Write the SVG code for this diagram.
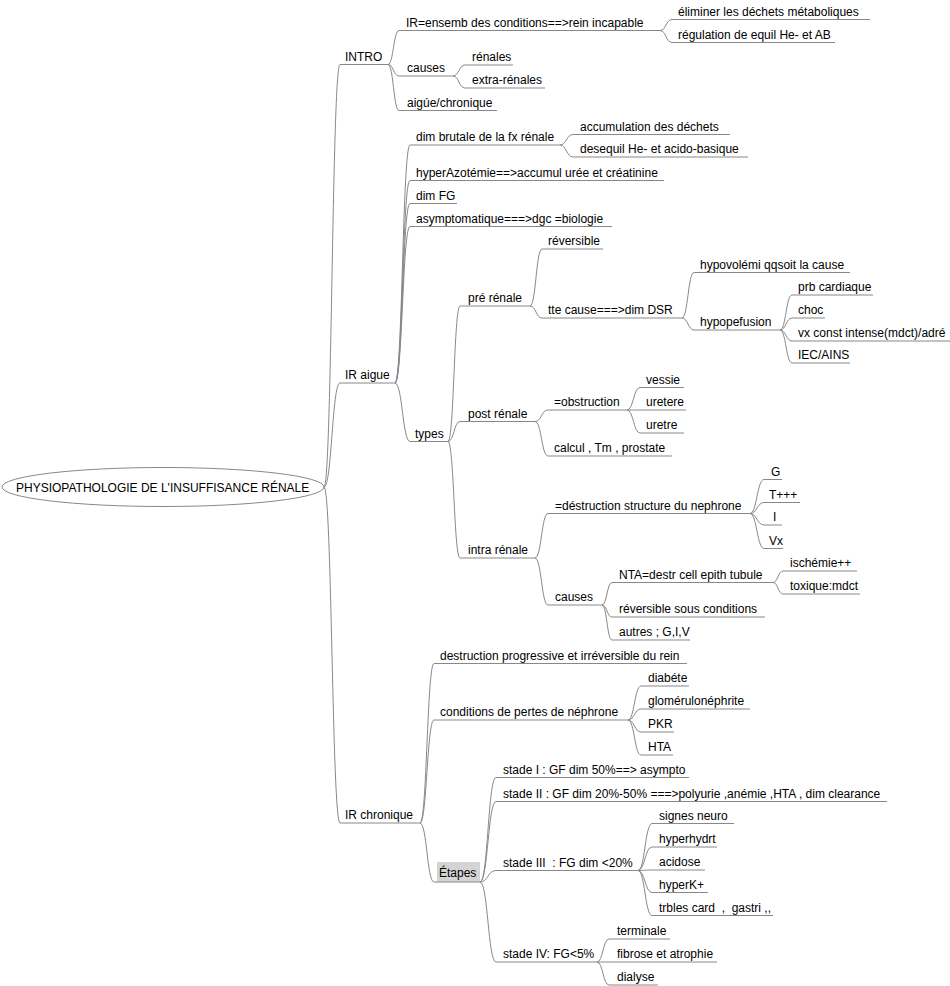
<svg xmlns="http://www.w3.org/2000/svg" width="950" height="986" viewBox="0 0 950 986">
<style>
.t{font-family:"Liberation Sans",Arial,sans-serif;font-size:12px;fill:#000;white-space:pre}
.u{stroke:#888;stroke-width:1;fill:none}
.c path{stroke:#888;stroke-width:1;fill:none}
</style>
<rect x="0" y="0" width="950" height="986" fill="#fff"/>
<g id="connectors" class="c">
<path d="M324 487 C332 487 332 64.5 340 64.5"/>
<path d="M324 487 C332 487 332 383 340 383"/>
<path d="M324 487 C332 487 332 823 340 823"/>
<path d="M388 64.5 C393.5 64.5 393.5 30.5 399 30.5"/>
<path d="M388 64.5 C393.5 64.5 393.5 76 399 76"/>
<path d="M388 64.5 C393.5 64.5 393.5 110.5 399 110.5"/>
<path d="M660 30.5 C666 30.5 666 19.5 672 19.5"/>
<path d="M660 30.5 C666 30.5 666 42.5 672 42.5"/>
<path d="M453 76 C459 76 459 65 465 65"/>
<path d="M453 76 C459 76 459 88 465 88"/>
<path d="M395 383 C402.5 383 402.5 145 410 145"/>
<path d="M395 383 C402.5 383 402.5 180.5 410 180.5"/>
<path d="M395 383 C402.5 383 402.5 203.5 410 203.5"/>
<path d="M395 383 C402.5 383 402.5 226.5 410 226.5"/>
<path d="M395 383 C402.5 383 402.5 441.5 410 441.5"/>
<path d="M560 145 C566.5 145 566.5 134.5 573 134.5"/>
<path d="M560 145 C566.5 145 566.5 157 573 157"/>
<path d="M448 441.5 C454 441.5 454 306 460 306"/>
<path d="M448 441.5 C454 441.5 454 421.5 460 421.5"/>
<path d="M448 441.5 C454 441.5 454 558 460 558"/>
<path d="M530 306 C536 306 536 249 542 249"/>
<path d="M530 306 C536 306 536 318 542 318"/>
<path d="M682 318 C688 318 688 272.5 694 272.5"/>
<path d="M682 318 C688 318 688 330 694 330"/>
<path d="M780 330 C786 330 786 295 792 295"/>
<path d="M780 330 C786 330 786 318 792 318"/>
<path d="M780 330 C786 330 786 341 792 341"/>
<path d="M780 330 C786 330 786 363 792 363"/>
<path d="M535 421.5 C541.5 421.5 541.5 410 548 410"/>
<path d="M535 421.5 C541.5 421.5 541.5 456 548 456"/>
<path d="M627 410 C633.5 410 633.5 387.5 640 387.5"/>
<path d="M627 410 C633.5 410 633.5 410 640 410"/>
<path d="M627 410 C633.5 410 633.5 433 640 433"/>
<path d="M535 558 C541.5 558 541.5 513.5 548 513.5"/>
<path d="M535 558 C541.5 558 541.5 605 548 605"/>
<path d="M750 513.5 C757 513.5 757 479.5 764 479.5"/>
<path d="M750 513.5 C757 513.5 757 502.5 764 502.5"/>
<path d="M750 513.5 C757 513.5 757 525 764 525"/>
<path d="M750 513.5 C757 513.5 757 548.5 764 548.5"/>
<path d="M602 605 C607 605 607 582.5 612 582.5"/>
<path d="M602 605 C607 605 607 617 612 617"/>
<path d="M602 605 C607 605 607 640 612 640"/>
<path d="M773 582.5 C778 582.5 778 571 783 571"/>
<path d="M773 582.5 C778 582.5 778 594 783 594"/>
<path d="M420 823 C427 823 427 663.5 434 663.5"/>
<path d="M420 823 C427 823 427 720 434 720"/>
<path d="M420 823 C427 823 427 882 434 882"/>
<path d="M628 720 C634.5 720 634.5 686 641 686"/>
<path d="M628 720 C634.5 720 634.5 709 641 709"/>
<path d="M628 720 C634.5 720 634.5 732 641 732"/>
<path d="M628 720 C634.5 720 634.5 755 641 755"/>
<path d="M480 882 C488 882 488 777.5 496 777.5"/>
<path d="M480 882 C488 882 488 801.5 496 801.5"/>
<path d="M480 882 C488 882 488 870.5 496 870.5"/>
<path d="M480 882 C488 882 488 962 496 962"/>
<path d="M638 870.5 C645 870.5 645 823.5 652 823.5"/>
<path d="M638 870.5 C645 870.5 645 847 652 847"/>
<path d="M638 870.5 C645 870.5 645 870 652 870"/>
<path d="M638 870.5 C645 870.5 645 892.5 652 892.5"/>
<path d="M638 870.5 C645 870.5 645 915.5 652 915.5"/>
<path d="M597 962 C603 962 603 939 609 939"/>
<path d="M597 962 C603 962 603 962 609 962"/>
<path d="M597 962 C603 962 603 985 609 985"/>
</g>
<g id="root"><ellipse cx="163" cy="487" rx="161" ry="19.5" fill="#fff" stroke="#888"/><text class="t" x="16" y="491.5">PHYSIOPATHOLOGIE DE L'INSUFFISANCE RÉNALE</text></g>
<g id="n-intro"><line class="u" x1="340" y1="64.5" x2="388" y2="64.5"/><text class="t" x="345" y="60.5">INTRO</text></g>
<g id="n-ir-def"><line class="u" x1="399" y1="30.5" x2="660" y2="30.5"/><text class="t" x="406" y="26.5">IR=ensemb des conditions==&gt;rein incapable</text></g>
<g id="n-eliminer"><line class="u" x1="672" y1="19.5" x2="870" y2="19.5"/><text class="t" x="678" y="15.5">éliminer les déchets métaboliques</text></g>
<g id="n-regulation"><line class="u" x1="672" y1="42.5" x2="835" y2="42.5"/><text class="t" x="678" y="38.5">régulation de equil He- et AB</text></g>
<g id="n-causes"><line class="u" x1="399" y1="76" x2="453" y2="76"/><text class="t" x="407" y="72">causes</text></g>
<g id="n-renales"><line class="u" x1="465" y1="65" x2="513" y2="65"/><text class="t" x="472" y="61">rénales</text></g>
<g id="n-extra"><line class="u" x1="465" y1="88" x2="545" y2="88"/><text class="t" x="472" y="84">extra-rénales</text></g>
<g id="n-aigue-chron"><line class="u" x1="399" y1="110.5" x2="497" y2="110.5"/><text class="t" x="407" y="106.5">aigúe/chronique</text></g>
<g id="n-ir-aigue"><line class="u" x1="340" y1="383" x2="395" y2="383"/><text class="t" x="345" y="379">IR aigue</text></g>
<g id="n-dim-brutale"><line class="u" x1="410" y1="145" x2="560" y2="145"/><text class="t" x="416" y="141">dim brutale de la fx rénale</text></g>
<g id="n-accumulation"><line class="u" x1="573" y1="134.5" x2="730" y2="134.5"/><text class="t" x="580" y="130.5">accumulation des déchets</text></g>
<g id="n-desequil"><line class="u" x1="573" y1="157" x2="748" y2="157"/><text class="t" x="580" y="153">desequil He- et acido-basique</text></g>
<g id="n-hyperazot"><line class="u" x1="410" y1="180.5" x2="664" y2="180.5"/><text class="t" x="416" y="176.5">hyperAzotémie==&gt;accumul urée et créatinine</text></g>
<g id="n-dimfg"><line class="u" x1="410" y1="203.5" x2="457" y2="203.5"/><text class="t" x="416" y="199.5">dim FG</text></g>
<g id="n-asympto"><line class="u" x1="410" y1="226.5" x2="612" y2="226.5"/><text class="t" x="416" y="222.5">asymptomatique===&gt;dgc =biologie</text></g>
<g id="n-types"><line class="u" x1="410" y1="441.5" x2="448" y2="441.5"/><text class="t" x="415" y="437.5">types</text></g>
<g id="n-pre"><line class="u" x1="460" y1="306" x2="530" y2="306"/><text class="t" x="468" y="302">pré rénale</text></g>
<g id="n-reversible"><line class="u" x1="542" y1="249" x2="603" y2="249"/><text class="t" x="548" y="245">réversible</text></g>
<g id="n-tte"><line class="u" x1="542" y1="318" x2="682" y2="318"/><text class="t" x="548" y="314">tte cause===&gt;dim DSR</text></g>
<g id="n-hypovol"><line class="u" x1="694" y1="272.5" x2="850" y2="272.5"/><text class="t" x="700" y="268.5">hypovolémi qqsoit la cause</text></g>
<g id="n-hypoperf"><line class="u" x1="694" y1="330" x2="780" y2="330"/><text class="t" x="700" y="326">hypopefusion</text></g>
<g id="n-prb"><line class="u" x1="792" y1="295" x2="873" y2="295"/><text class="t" x="798" y="291">prb cardiaque</text></g>
<g id="n-choc"><line class="u" x1="792" y1="318" x2="825" y2="318"/><text class="t" x="798" y="314">choc</text></g>
<g id="n-vx"><line class="u" x1="792" y1="341" x2="950" y2="341"/><text class="t" x="798" y="337">vx const intense(mdct)/adré</text></g>
<g id="n-iec"><line class="u" x1="792" y1="363" x2="850" y2="363"/><text class="t" x="798" y="359">IEC/AINS</text></g>
<g id="n-post"><line class="u" x1="460" y1="421.5" x2="535" y2="421.5"/><text class="t" x="468" y="417.5">post rénale</text></g>
<g id="n-obstruction"><line class="u" x1="548" y1="410" x2="627" y2="410"/><text class="t" x="554" y="406">=obstruction</text></g>
<g id="n-vessie"><line class="u" x1="640" y1="387.5" x2="684" y2="387.5"/><text class="t" x="646" y="383.5">vessie</text></g>
<g id="n-uretere"><line class="u" x1="640" y1="410" x2="686" y2="410"/><text class="t" x="646" y="406">uretere</text></g>
<g id="n-uretre"><line class="u" x1="640" y1="433" x2="684" y2="433"/><text class="t" x="646" y="429">uretre</text></g>
<g id="n-calcul"><line class="u" x1="548" y1="456" x2="672" y2="456"/><text class="t" x="554" y="452">calcul , Tm , prostate</text></g>
<g id="n-intra"><line class="u" x1="460" y1="558" x2="535" y2="558"/><text class="t" x="468" y="554">intra rénale</text></g>
<g id="n-destruction"><line class="u" x1="548" y1="513.5" x2="750" y2="513.5"/><text class="t" x="555" y="509.5">=déstruction structure du nephrone</text></g>
<g id="n-g"><line class="u" x1="764" y1="479.5" x2="782" y2="479.5"/><text class="t" x="771" y="475.5">G</text></g>
<g id="n-t"><line class="u" x1="764" y1="502.5" x2="800" y2="502.5"/><text class="t" x="769" y="498.5">T+++</text></g>
<g id="n-i"><line class="u" x1="764" y1="525" x2="782" y2="525"/><text class="t" x="773" y="521">I</text></g>
<g id="n-v"><line class="u" x1="764" y1="548.5" x2="783" y2="548.5"/><text class="t" x="769" y="544.5">Vx</text></g>
<g id="n-causes2"><line class="u" x1="548" y1="605" x2="602" y2="605"/><text class="t" x="555" y="601">causes</text></g>
<g id="n-nta"><line class="u" x1="612" y1="582.5" x2="773" y2="582.5"/><text class="t" x="619" y="578.5">NTA=destr cell epith tubule</text></g>
<g id="n-ischemie"><line class="u" x1="783" y1="571" x2="857" y2="571"/><text class="t" x="790" y="567">ischémie++</text></g>
<g id="n-toxique"><line class="u" x1="783" y1="594" x2="860" y2="594"/><text class="t" x="790" y="590">toxique:mdct</text></g>
<g id="n-rev-sous"><line class="u" x1="612" y1="617" x2="765" y2="617"/><text class="t" x="619" y="613">réversible sous conditions</text></g>
<g id="n-autres"><line class="u" x1="612" y1="640" x2="690" y2="640"/><text class="t" x="619" y="636">autres ; G,I,V</text></g>
<g id="n-ir-chron"><line class="u" x1="340" y1="823" x2="420" y2="823"/><text class="t" x="345" y="819">IR chronique</text></g>
<g id="n-destr-prog"><line class="u" x1="434" y1="663.5" x2="687" y2="663.5"/><text class="t" x="440" y="659.5">destruction progressive et irréversible du rein</text></g>
<g id="n-conditions"><line class="u" x1="434" y1="720" x2="628" y2="720"/><text class="t" x="440" y="716">conditions de pertes de néphrone</text></g>
<g id="n-diabete"><line class="u" x1="641" y1="686" x2="689" y2="686"/><text class="t" x="648" y="682">diabéte</text></g>
<g id="n-glomerulo"><line class="u" x1="641" y1="709" x2="750" y2="709"/><text class="t" x="648" y="705">glomérulonéphrite</text></g>
<g id="n-pkr"><line class="u" x1="641" y1="732" x2="674" y2="732"/><text class="t" x="648" y="728">PKR</text></g>
<g id="n-hta"><line class="u" x1="641" y1="755" x2="673" y2="755"/><text class="t" x="648" y="751">HTA</text></g>
<g id="n-etapes"><rect x="437" y="862" width="43" height="20" fill="#d4d4d4"/><line class="u" x1="434" y1="882" x2="480" y2="882"/><text class="t" x="439" y="877">Étapes</text></g>
<g id="n-stade1"><line class="u" x1="496" y1="777.5" x2="689" y2="777.5"/><text class="t" x="503" y="773.5">stade I : GF dim 50%==&gt; asympto</text></g>
<g id="n-stade2"><line class="u" x1="496" y1="801.5" x2="887" y2="801.5"/><text class="t" x="503" y="797.5">stade II : GF dim 20%-50% ===&gt;polyurie ,anémie ,HTA , dim clearance</text></g>
<g id="n-stade3"><line class="u" x1="496" y1="870.5" x2="638" y2="870.5"/><text class="t" x="503" y="866.5">stade III  : FG dim &lt;20%</text></g>
<g id="n-signes"><line class="u" x1="652" y1="823.5" x2="734" y2="823.5"/><text class="t" x="659" y="819.5">signes neuro</text></g>
<g id="n-hyperhydrt"><line class="u" x1="652" y1="847" x2="717" y2="847"/><text class="t" x="659" y="843">hyperhydrt</text></g>
<g id="n-acidose"><line class="u" x1="652" y1="870" x2="705" y2="870"/><text class="t" x="659" y="866">acidose</text></g>
<g id="n-hyperk"><line class="u" x1="652" y1="892.5" x2="708" y2="892.5"/><text class="t" x="659" y="888.5">hyperK+</text></g>
<g id="n-trbles"><line class="u" x1="652" y1="915.5" x2="773" y2="915.5"/><text class="t" x="659" y="911.5">trbles card  ,  gastri ,,</text></g>
<g id="n-stade4"><line class="u" x1="496" y1="962" x2="597" y2="962"/><text class="t" x="503" y="958">stade IV: FG&lt;5%</text></g>
<g id="n-terminale"><line class="u" x1="609" y1="939" x2="670" y2="939"/><text class="t" x="617" y="935">terminale</text></g>
<g id="n-fibrose"><line class="u" x1="609" y1="962" x2="717" y2="962"/><text class="t" x="617" y="958">fibrose et atrophie</text></g>
<g id="n-dialyse"><line class="u" x1="609" y1="985" x2="658" y2="985"/><text class="t" x="617" y="981">dialyse</text></g>
</svg>
